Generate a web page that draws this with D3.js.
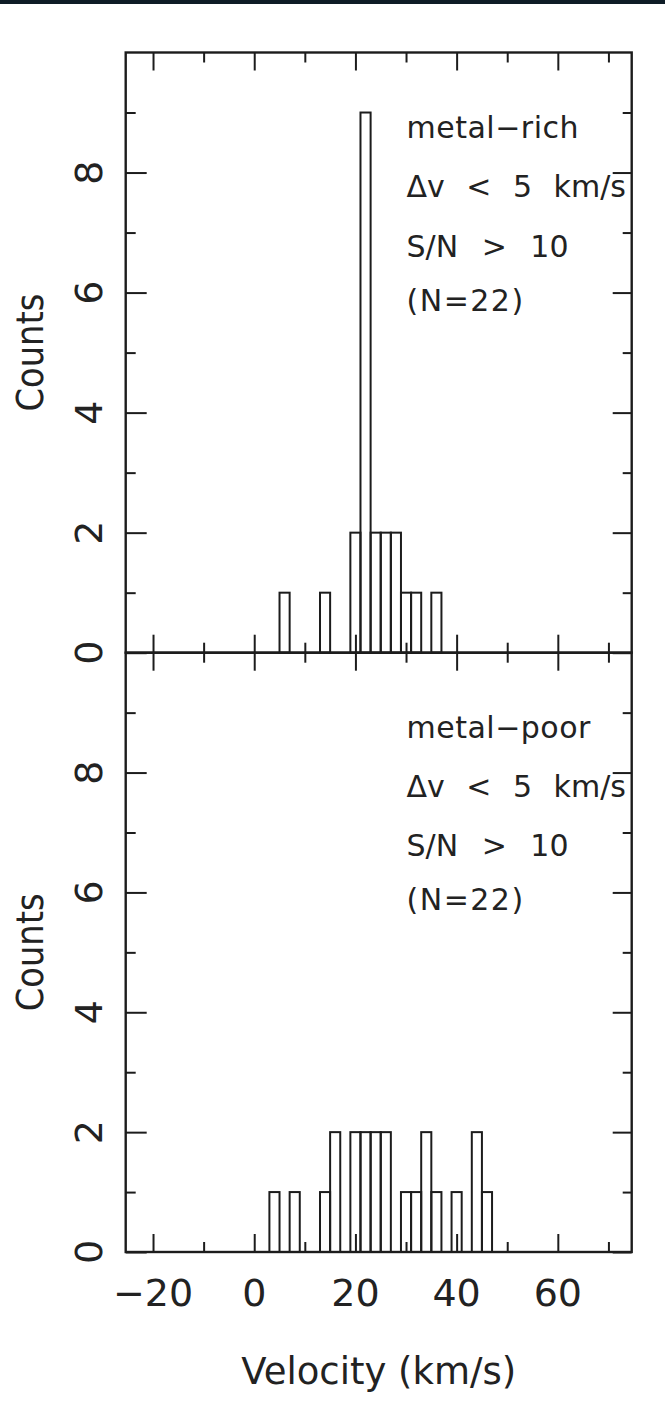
<!DOCTYPE html>
<html>
<head>
<meta charset="utf-8">
<script src="https://cdn.jsdelivr.net/npm/d3@7"></script>
<style>
  body { margin: 0; background: #fff; }
  svg { display: block; }
  text { font-family: "DejaVu Sans", sans-serif; fill: #222; }
</style>
</head>
<body>
<div id="chart"></div>
<script>
// histogram bins: left edges (km/s), each bin is 2 km/s wide
const binLefts = [3, 5, 7, 9, 11, 13, 15, 17, 19, 21, 23, 25, 27, 29, 31, 33, 35, 37, 39, 41, 43, 45];
const binWidth = 2;
const richCounts = [0, 1, 0, 0, 0, 1, 0, 0, 2, 9, 2, 2, 2, 1, 1, 0, 1, 0, 0, 0, 0, 0];
const poorCounts = [1, 0, 1, 0, 0, 1, 2, 0, 2, 2, 2, 2, 0, 1, 1, 2, 1, 0, 1, 0, 2, 1];

const xMajor = [-20, 0, 20, 40, 60];
const xMinor = [-10, 10, 30, 50, 70];
const yMajor = [0, 2, 4, 6, 8];
const yMinor = [1, 3, 5, 7, 9];

const richNotes = ["metal\u2212rich", "\u0394v < 5 km/s", "S/N > 10", "(N=22)"];
const poorNotes = ["metal\u2212poor", "\u0394v < 5 km/s", "S/N > 10", "(N=22)"];
// the plotted font has wide spaces
const noteWordSpacing = [0, 12, 14, 0];
const noteLetterSpacing = [0.5, 0, 0, 1.5];

const width = 665,
      height = 1404;

const svg = d3.select("#chart").append("svg")
    .attr("width", width)
    .attr("height", height);

// dark strip along the top edge of the scan
svg.append("rect")
    .attr("x", 0).attr("y", 0)
    .attr("width", width).attr("height", 4)
    .attr("fill", "#0e1c26");

const x = d3.scaleLinear()
    .domain([-25.4, 74.6])
    .range([125.7, 631.7]);

const panels = [
    {counts: richCounts, notes: richNotes, top: 52.5, bottom: 652.7},
    {counts: poorCounts, notes: poorNotes, top: 652.7, bottom: 1252}
];

const ink = "#1c1c1c";

panels.forEach(p => {
    const y = d3.scaleLinear()
        .domain([0, 10])
        .range([p.bottom, p.top]);

    const g = svg.append("g");

    // bars
    const bins = binLefts.map((b, i) => ({x0: b, x1: b + binWidth, n: p.counts[i]}))
        .filter(d => d.n > 0);

    g.selectAll("rect.bar")
        .data(bins)
        .join("rect")
        .attr("class", "bar")
        .attr("x", d => x(d.x0))
        .attr("y", d => y(d.n))
        .attr("width", d => x(d.x1) - x(d.x0))
        .attr("height", d => y(0) - y(d.n))
        .attr("fill", "none")
        .attr("stroke", ink)
        .attr("stroke-width", 2);

    // ticks on all four sides, pointing inwards
    function ticks(axis, vals, size, transform) {
        g.append("g")
            .attr("transform", transform)
            .call(axis.tickValues(vals).tickSize(-size).tickFormat(""))
            .call(a => a.select(".domain").remove())
            .call(a => a.selectAll("line").attr("stroke", ink).attr("stroke-width", 2));
    }
    ticks(d3.axisBottom(x), xMajor, 18, `translate(0,${p.bottom})`);
    ticks(d3.axisBottom(x), xMinor, 10, `translate(0,${p.bottom})`);
    ticks(d3.axisTop(x), xMajor, 18, `translate(0,${p.top})`);
    ticks(d3.axisTop(x), xMinor, 10, `translate(0,${p.top})`);
    ticks(d3.axisLeft(y), yMajor, 21, `translate(${x.range()[0]},0)`);
    ticks(d3.axisLeft(y), yMinor, 10, `translate(${x.range()[0]},0)`);
    ticks(d3.axisRight(y), yMajor, 19, `translate(${x.range()[1]},0)`);
    ticks(d3.axisRight(y), yMinor, 9, `translate(${x.range()[1]},0)`);

    // frame
    g.append("rect")
        .attr("x", x.range()[0])
        .attr("y", p.top)
        .attr("width", x.range()[1] - x.range()[0])
        .attr("height", p.bottom - p.top)
        .attr("fill", "none")
        .attr("stroke", ink)
        .attr("stroke-width", 2.4);

    // rotated y tick labels
    g.selectAll("text.ylab")
        .data(yMajor)
        .join("text")
        .attr("class", "ylab")
        .attr("transform", d => `translate(101.5,${y(d)}) rotate(-90)`)
        .attr("text-anchor", "middle")
        .attr("font-size", 38)
        .text(d => d);

    g.append("text")
        .attr("transform", `translate(43,${y(5)}) rotate(-90)`)
        .attr("text-anchor", "middle")
        .attr("font-size", 37)
        .attr("textLength", 118)
        .attr("lengthAdjust", "spacingAndGlyphs")
        .text("Counts");

    // annotation block
    const noteY = [8.58, 7.6, 6.6, 5.7];
    g.selectAll("text.note")
        .data(p.notes)
        .join("text")
        .attr("class", "note")
        .attr("x", 406.5)
        .attr("y", (d, i) => y(noteY[i]))
        .attr("font-size", 30)
        .style("word-spacing", (d, i) => noteWordSpacing[i] + "px")
        .style("letter-spacing", (d, i) => noteLetterSpacing[i] + "px")
        .text(d => d);
});

// x tick labels under the lower panel
svg.append("g")
    .selectAll("text")
    .data(xMajor)
    .join("text")
    .attr("x", d => x(d))
    .attr("y", 1306)
    .attr("text-anchor", "middle")
    .attr("font-size", 38)
    .text(d => d < 0 ? "\u2212" + Math.abs(d) : d);

svg.append("text")
    .attr("x", (x.range()[0] + x.range()[1]) / 2)
    .attr("y", 1384)
    .attr("text-anchor", "middle")
    .attr("font-size", 37)
    .text("Velocity (km/s)");
</script>
</body>
</html>
